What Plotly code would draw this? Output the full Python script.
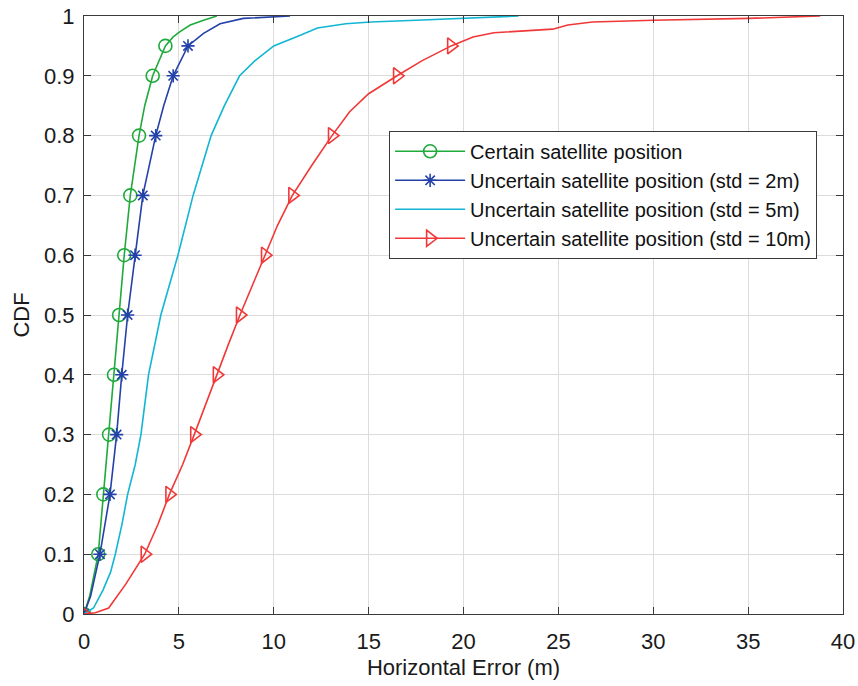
import plotly.graph_objects as go

# Empirical CDF of horizontal positioning error for each scenario
green_x = [0, 0.3, 0.75, 1.02, 1.32, 1.58, 1.85, 2.12, 2.44, 2.9, 3.2, 3.62, 4.29, 4.7, 5.06, 5.6, 6.3, 7.0]
green_y = [0, 0.03, 0.1, 0.2, 0.3, 0.4, 0.5, 0.6, 0.7, 0.8, 0.85, 0.9, 0.95, 0.965, 0.974, 0.985, 0.993, 1.0]

blue_x = [0, 0.35, 0.84, 1.37, 1.72, 1.99, 2.3, 2.69, 3.1, 3.78, 4.2, 4.7, 5.48, 6.3, 7.17, 8.4, 9.5, 10.86]
blue_y = [0, 0.03, 0.1, 0.2, 0.3, 0.4, 0.5, 0.6, 0.7, 0.8, 0.85, 0.9, 0.95, 0.971, 0.987, 0.996, 0.998, 1.0]

cyan_x = [0, 0.5, 1.0, 1.4, 1.65, 2.0, 2.3, 2.7, 3.0, 3.4, 4.05, 4.95, 5.75, 6.7, 7.4, 8.2, 9.0, 10.0,
          11.4, 12.3, 13.8, 15.1, 17.5, 20.1, 22.9]
cyan_y = [0, 0.01, 0.04, 0.07, 0.1, 0.15, 0.2, 0.25, 0.3, 0.4, 0.5, 0.6, 0.7, 0.8, 0.85, 0.9, 0.925, 0.95,
          0.968, 0.98, 0.987, 0.99, 0.993, 0.996, 1.0]

red_x = [0, 0.6, 1.3, 2.2, 3.2, 3.9, 4.5, 5.2, 5.81, 6.4, 7.0, 7.6, 8.22, 8.9, 9.54, 10.2, 10.98, 12.0,
         13.07, 14.0, 15.0, 16.5, 17.8, 19.35, 20.5, 21.6, 23.0, 24.7, 25.5, 26.8, 30.0, 35.0, 38.8]
red_y = [0, 0.002, 0.01, 0.05, 0.1, 0.15, 0.2, 0.25, 0.3, 0.35, 0.4, 0.45, 0.5, 0.55, 0.6, 0.65, 0.7, 0.75,
         0.8, 0.84, 0.87, 0.9, 0.925, 0.95, 0.965, 0.972, 0.975, 0.978, 0.985, 0.99, 0.993, 0.996, 1.0]

# CDF levels at which markers are placed
marker_levels = [0, 0.1, 0.2, 0.3, 0.4, 0.5, 0.6, 0.7, 0.8, 0.9, 0.95]

names = [
    "Certain satellite position",
    "Uncertain satellite position (std = 2m)",
    "Uncertain satellite position (std = 5m)",
    "Uncertain satellite position (std = 10m)",
]

series = [
    (green_x, green_y, "#1faa3c", "circle-open", 13),
    (blue_x, blue_y, "#2341a8", "asterisk-open", 11),
    (cyan_x, cyan_y, "#12b6d2", None, 0),
    (red_x, red_y, "#f03838", "triangle-right-open", 14),
]

FONT = "Liberation Sans, Arial, Helvetica, sans-serif"
fig = go.Figure()

for name, (xs, ys, color, symbol, msize) in zip(names, series):
    fig.add_trace(go.Scatter(x=xs, y=ys, mode="lines", line=dict(color=color, width=1.6),
                             showlegend=False, hoverinfo="skip"))
    if symbol:
        mx = [x for x, y in zip(xs, ys) if any(abs(y - lv) < 1e-9 for lv in marker_levels)]
        my = [y for y in ys if any(abs(y - lv) < 1e-9 for lv in marker_levels)]
        fig.add_trace(go.Scatter(x=mx, y=my, mode="markers",
                                 marker=dict(symbol=symbol, size=msize, color=color,
                                             line=dict(color=color, width=1.6)),
                                 showlegend=False, hoverinfo="skip"))
    # legend entry
    fig.add_trace(go.Scatter(x=[None], y=[None], name=name,
                             mode="lines+markers" if symbol else "lines",
                             line=dict(color=color, width=1.6),
                             marker=dict(symbol=symbol or "circle", size=msize, color=color,
                                         line=dict(color=color, width=1.6))))

axis_common = dict(
    showline=True, linecolor="#3a3a3a", linewidth=1, mirror="ticks",
    ticks="inside", ticklen=7, tickcolor="#3a3a3a", tickwidth=1,
    showgrid=True, gridcolor="#dcdcdc", gridwidth=1, zeroline=False,
    automargin=False,
    tickfont=dict(family=FONT, size=22, color="#1a1a1a"),
)

fig.update_xaxes(range=[0, 40], tickmode="array", tickvals=list(range(0, 41, 5)),
                 ticklabelstandoff=8,
                 title=dict(text="Horizontal Error (m)", font=dict(family=FONT, size=22, color="#1a1a1a"),
                            standoff=6),
                 **axis_common)
fig.update_yaxes(range=[0, 1], tickmode="array", tickvals=[i / 10 for i in range(11)],
                 ticktext=["0", "0.1", "0.2", "0.3", "0.4", "0.5", "0.6", "0.7", "0.8", "0.9", "1"],
                 ticklabelstandoff=4,
                 title=dict(text="CDF", font=dict(family=FONT, size=22, color="#1a1a1a"), standoff=8),
                 **axis_common)

fig.update_layout(
    width=858, height=686,
    margin=dict(l=84, r=15, t=16, b=72),
    plot_bgcolor="white", paper_bgcolor="white",
    legend=dict(x=0.402, y=0.808, xanchor="left", yanchor="top",
                bgcolor="white", bordercolor="#3a3a3a", borderwidth=1,
                font=dict(family=FONT, size=20, color="#111111"),
                itemwidth=70),
)

fig.write_html("out.html")
